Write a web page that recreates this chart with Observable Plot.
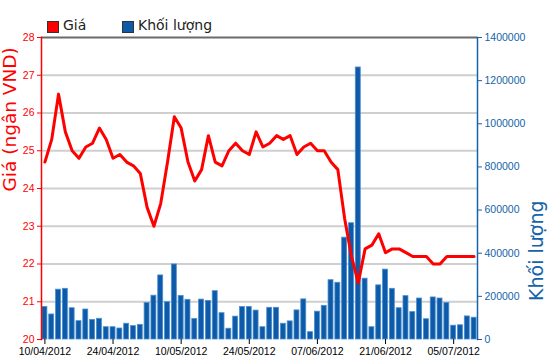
<!DOCTYPE html>
<html><head><meta charset="utf-8">
<script src="https://cdn.jsdelivr.net/npm/d3@7"></script>
<script src="https://cdn.jsdelivr.net/npm/@observablehq/plot@0.6"></script>
<style>
body{margin:0;background:#fff;width:550px;height:364px;overflow:hidden;position:relative;font-family:"DejaVu Sans",sans-serif}
#legend{position:absolute;left:0;top:0;width:550px;height:36px;z-index:2}
.sw{position:absolute;top:21px;width:10px;height:10px;border:1px solid #333}
.lt{position:absolute;top:17px;font-size:14px;line-height:17px;color:#222;white-space:nowrap}
#chart{position:absolute;left:0;top:30px;z-index:1}
</style></head><body>
<div id="chart"></div>
<div id="legend">
  <div class="sw" style="left:47px;background:#ff0000"></div><div class="lt" style="left:63px">Giá</div>
  <div class="sw" style="left:122px;background:#0d5ba8"></div><div class="lt" style="left:138px">Khối lượng</div>
</div>
<script>
const dates = ["10/04/2012","11/04/2012","12/04/2012","13/04/2012","16/04/2012","17/04/2012","18/04/2012","19/04/2012","20/04/2012","23/04/2012",
"24/04/2012","25/04/2012","26/04/2012","27/04/2012","02/05/2012","03/05/2012","04/05/2012","07/05/2012","08/05/2012","09/05/2012",
"10/05/2012","11/05/2012","14/05/2012","15/05/2012","16/05/2012","17/05/2012","18/05/2012","21/05/2012","22/05/2012","23/05/2012",
"24/05/2012","25/05/2012","28/05/2012","29/05/2012","30/05/2012","31/05/2012","01/06/2012","04/06/2012","05/06/2012","06/06/2012",
"07/06/2012","08/06/2012","11/06/2012","12/06/2012","13/06/2012","14/06/2012","15/06/2012","18/06/2012","19/06/2012","20/06/2012",
"21/06/2012","22/06/2012","25/06/2012","26/06/2012","27/06/2012","28/06/2012","29/06/2012","02/07/2012","03/07/2012","04/07/2012",
"05/07/2012","06/07/2012","09/07/2012","10/07/2012"];
const price = [24.7,25.3,26.5,25.5,25.0,24.8,25.1,25.2,25.6,25.3,
24.8,24.9,24.7,24.6,24.4,23.5,23.0,23.6,24.7,25.9,
25.6,24.7,24.2,24.5,25.4,24.7,24.6,25.0,25.2,25.0,
24.9,25.5,25.1,25.2,25.4,25.3,25.4,24.9,25.1,25.2,
25.0,25.0,24.7,24.5,23.2,22.2,21.5,22.4,22.5,22.8,
22.3,22.4,22.4,22.3,22.2,22.2,22.2,22.0,22.0,22.2,
22.2,22.2,22.2,22.2];
const volume = [151000,116000,231000,235000,145000,85000,139000,91000,96000,57000,
57000,51000,73000,62000,68000,169000,203000,297000,173000,348000,
202000,184000,95000,185000,179000,224000,122000,50000,106000,151000,
151000,134000,57000,147000,147000,73000,84000,135000,186000,34000,
129000,156000,275000,263000,472000,539000,1261000,282000,57000,251000,
324000,235000,145000,201000,127000,190000,94000,195000,190000,169000,
64000,66000,107000,101000];
const priceTicks = [20,21,22,23,24,25,26,27,28];
const volumeTicks = [0,200000,400000,600000,800000,1000000,1200000,1400000];
const xTicks = ["10/04/2012","24/04/2012","10/05/2012","24/05/2012","07/06/2012","21/06/2012","05/07/2012"];
const priceTitle = "Giá (ngân VND)";
const volumeTitle = "Khối lượng";

const volMax = volumeTicks[volumeTicks.length-1];
const pMin = priceTicks[0], pMax = priceTicks[priceTicks.length-1];
const toY = v => pMin + v * (pMax - pMin) / volMax;
const fromY = y => Math.round((y - pMin) * volMax / (pMax - pMin));
const rows = dates.map((d, i) => ({date: d, price: price[i], vol: volume[i]}));
const blue = "#1563a8";

const chart = Plot.plot({
  width: 550, height: 334,
  marginLeft: 41, marginRight: 73, marginTop: 7, marginBottom: 25,
  style: {background: "transparent", fontFamily: "Liberation Sans", overflow: "visible"},
  x: {type: "band", domain: dates, paddingInner: 0.27, paddingOuter: 0.135, axis: null},
  y: {domain: [pMin, pMax], axis: null},
  marks: [
    Plot.gridY(priceTicks.slice(1, -1), {stroke: "#cfcfcf", strokeOpacity: 1, strokeWidth: 2}),
    Plot.ruleY([pMax], {stroke: "#6b6b6b", strokeWidth: 2}),
    Plot.barY(rows, {x: "date", y1: pMin, y2: d => toY(d.vol), fill: "#0d5ba8", stroke: "#4d8fd1", strokeWidth: 0.8}),
    Plot.lineY(rows, {x: "date", y: "price", stroke: "#ff0000", strokeWidth: 3}),
    Plot.axisY(priceTicks, {anchor: "left", color: "#ff0000", tickSize: 4, tickPadding: 3, fontSize: 10.5, label: null}),
    Plot.axisY(volumeTicks.map(toY), {anchor: "right", color: blue, tickSize: 4, tickPadding: 3, fontSize: 10.5, tickFormat: d => String(fromY(d)), label: null}),
    Plot.axisX(xTicks, {tickSize: 5, tickPadding: 3, fontSize: 10.5, color: "#000", label: null}),
    Plot.frame({anchor: "left", stroke: "#ff0000", strokeWidth: 1.5}),
    Plot.frame({anchor: "right", stroke: blue, strokeWidth: 1.5}),
    Plot.text([priceTitle], {text: d => d, frameAnchor: "left", rotate: -90, dx: -31, dy: 3, fill: "#ff0000", fontSize: 18.5, fontFamily: "DejaVu Sans"}),
    Plot.text([volumeTitle], {text: d => d, frameAnchor: "right", rotate: -90, dx: 59, dy: 12, fill: blue, fontSize: 19, fontFamily: "DejaVu Sans"})
  ]
});
document.getElementById("chart").appendChild(chart);
</script>
</body></html>
